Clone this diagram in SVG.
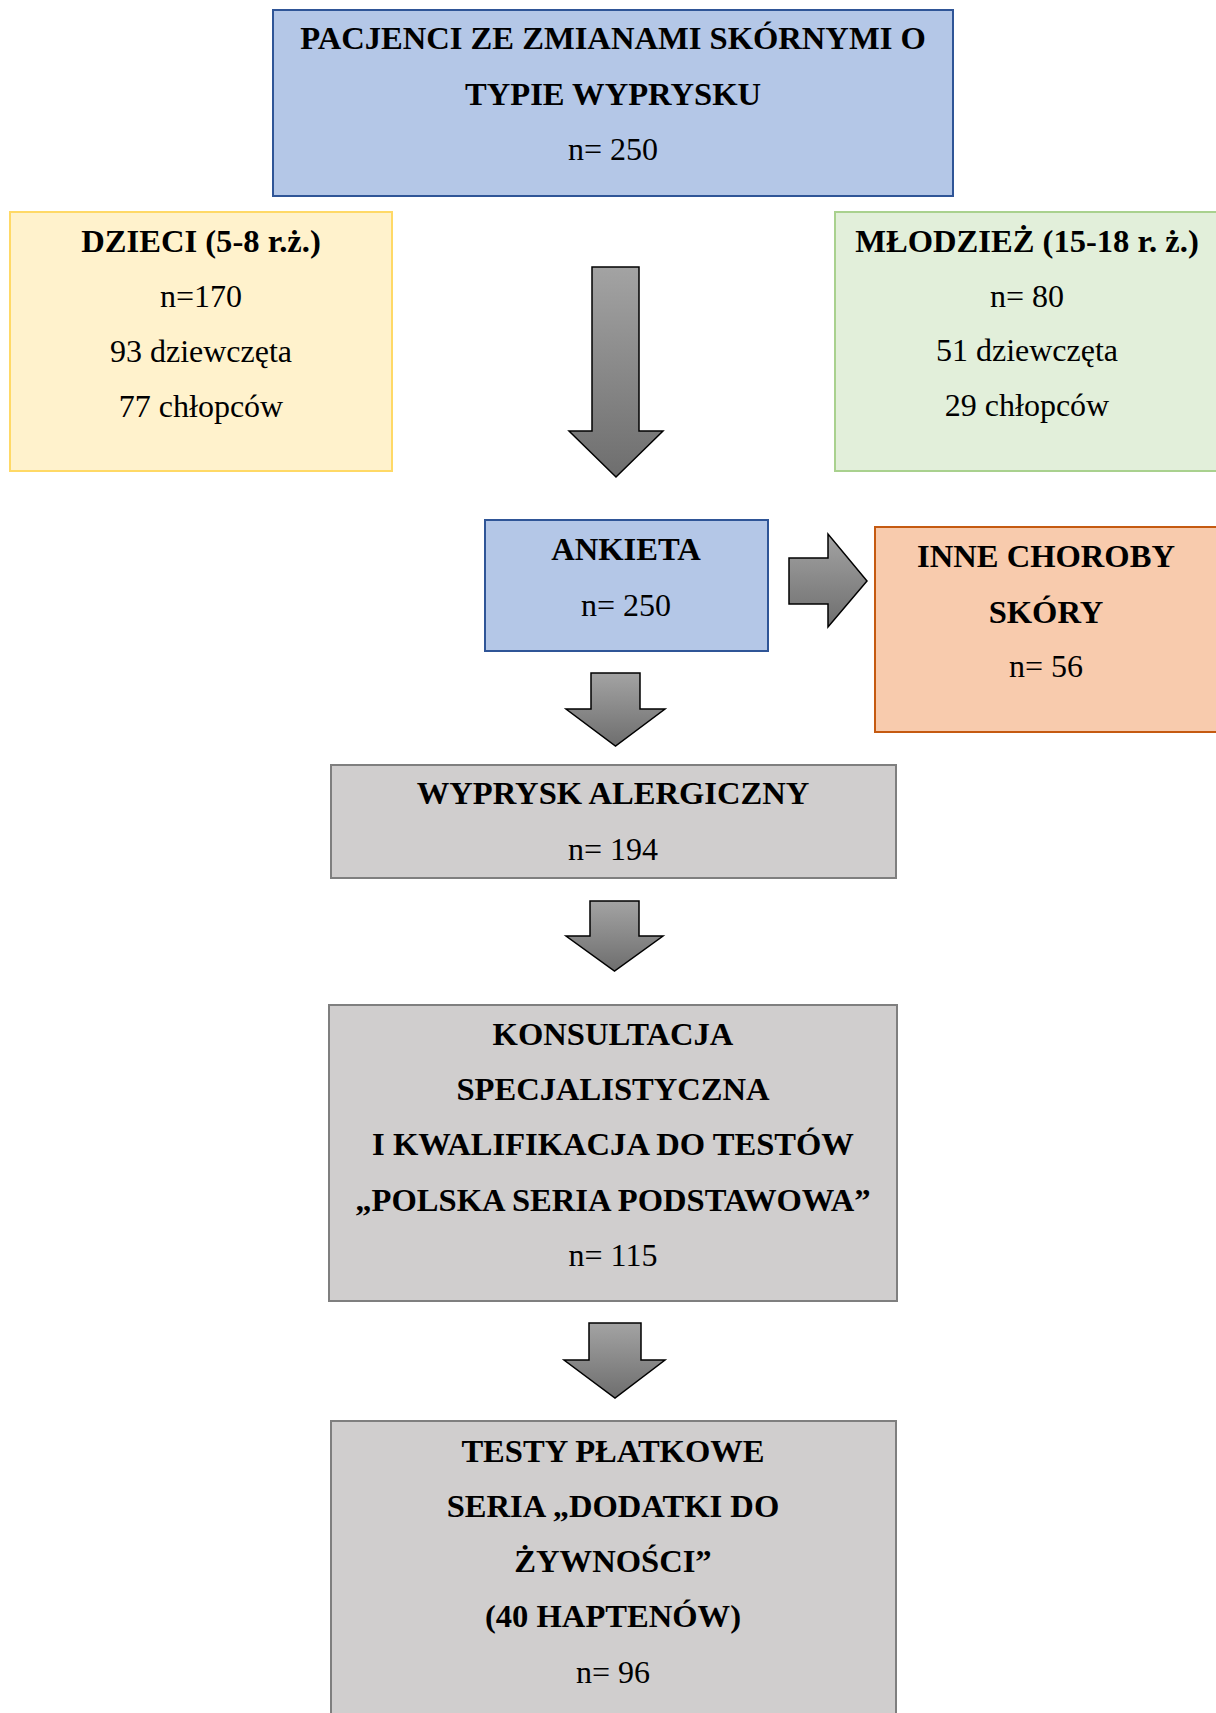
<svg xmlns="http://www.w3.org/2000/svg" width="1216" height="1713" viewBox="0 0 1216 1713">
<defs>
<linearGradient id="ag" x1="0" y1="0" x2="0" y2="1">
<stop offset="0" stop-color="#A3A3A3"/>
<stop offset="1" stop-color="#6E6E6E"/>
</linearGradient>
<style>
text{font-family:"Liberation Serif","Times New Roman",serif;font-size:32px;fill:#000;text-anchor:middle}
.b{font-weight:bold;font-size:32.6px}
.arrow{fill:url(#ag);stroke:#000;stroke-width:1.5;stroke-linejoin:miter}
.blue{fill:#B4C7E7;stroke:#2F5597;stroke-width:2}
.yel{fill:#FFF2CC;stroke:#FFD966;stroke-width:2}
.grn{fill:#E2EFDA;stroke:#A9D18E;stroke-width:2}
.org{fill:#F8CBAD;stroke:#C55A11;stroke-width:2}
.gry{fill:#D0CECE;stroke:#7F7F7F;stroke-width:2}
</style>
</defs>
<rect width="1216" height="1713" fill="#fff"/>
<g id="connectors">
<path class="arrow" d="M592,267 H639 V431 H663 L616,477 L569,431 H592 Z"/>
<path class="arrow" d="M789,558 H828 V534 L867,581 L828,627 V604 H789 Z"/>
<path class="arrow" d="M591,673 H640 V709 H665 L615.5,746 L566,709 H591 Z"/>
<path class="arrow" d="M590,901 H639 V936 H663 L614.5,971 L566,936 H590 Z"/>
<path class="arrow" d="M589,1323 H641 V1360 H665 L615,1398 L564,1360 H589 Z"/>
</g>
<g id="n_pacjenci">
<rect class="blue" x="273" y="10" width="680" height="186"/>
<text class="b" x="613" y="49">PACJENCI ZE ZMIANAMI SKÓRNYMI O</text>
<text class="b" x="613" y="105">TYPIE WYPRYSKU</text>
<text x="613" y="160">n= 250</text>
</g>
<g id="n_dzieci">
<rect class="yel" x="10" y="212" width="382" height="259"/>
<text class="b" x="201" y="252">DZIECI (5-8 r.ż.)</text>
<text x="201" y="307">n=170</text>
<text x="201" y="362">93 dziewczęta</text>
<text x="201" y="417">77 chłopców</text>
</g>
<g id="n_mlodziez">
<rect class="grn" x="835" y="212" width="390" height="259"/>
<text class="b" x="1027" y="252">MŁODZIEŻ (15-18 r. ż.)</text>
<text x="1027" y="307">n= 80</text>
<text x="1027" y="361">51 dziewczęta</text>
<text x="1027" y="416">29 chłopców</text>
</g>
<g id="n_ankieta">
<rect class="blue" x="485" y="520" width="283" height="131"/>
<text class="b" x="626" y="560">ANKIETA</text>
<text x="626" y="616">n= 250</text>
</g>
<g id="n_inne">
<rect class="org" x="875" y="527" width="350" height="205"/>
<text class="b" x="1046" y="567">INNE CHOROBY</text>
<text class="b" x="1046" y="623">SKÓRY</text>
<text x="1046" y="677">n= 56</text>
</g>
<g id="n_wyprysk">
<rect class="gry" x="331" y="765" width="565" height="113"/>
<text class="b" x="613" y="804">WYPRYSK ALERGICZNY</text>
<text x="613" y="860">n= 194</text>
</g>
<g id="n_konsultacja">
<rect class="gry" x="329" y="1005" width="568" height="296"/>
<text class="b" x="613" y="1045">KONSULTACJA</text>
<text class="b" x="613" y="1100">SPECJALISTYCZNA</text>
<text class="b" x="613" y="1155">I KWALIFIKACJA DO TESTÓW</text>
<text class="b" x="613" y="1211">„POLSKA SERIA PODSTAWOWA”</text>
<text x="613" y="1266">n= 115</text>
</g>
<g id="n_testy">
<rect class="gry" x="331" y="1421" width="565" height="300"/>
<text class="b" x="613" y="1462">TESTY PŁATKOWE</text>
<text class="b" x="613" y="1517">SERIA „DODATKI DO</text>
<text class="b" x="613" y="1572">ŻYWNOŚCI”</text>
<text class="b" x="613" y="1627">(40 HAPTENÓW)</text>
<text x="613" y="1683">n= 96</text>
</g>
</svg>
